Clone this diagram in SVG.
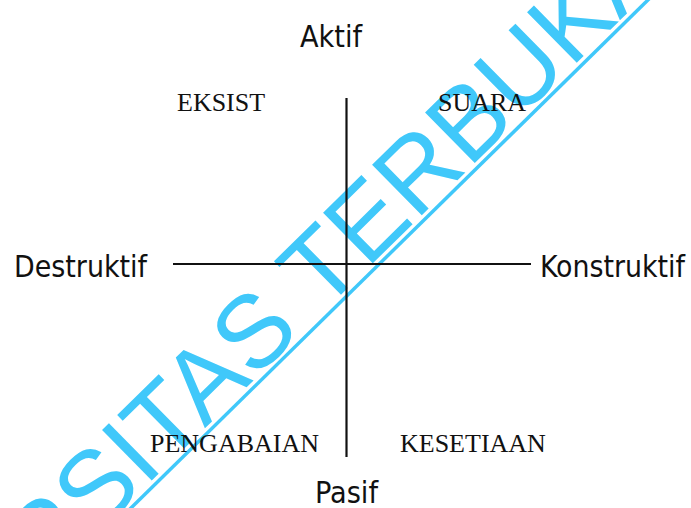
<svg xmlns="http://www.w3.org/2000/svg" width="691" height="508" viewBox="0 0 691 508">
  <style>
    .axis { font-family: "DejaVu Sans Condensed", "DejaVu Sans", sans-serif; font-stretch: condensed; font-size: 30px; fill: #111; }
    .quad { font-family: "Liberation Serif", "Times New Roman", serif; font-size: 26px; fill: #111; }
    .ln { stroke: #111; stroke-width: 2.2; fill: none; }
    .wm { font-family: "Liberation Sans", Arial, sans-serif; font-size: 103px; fill: #40C8FA; }
  </style>
  <rect width="691" height="508" fill="#ffffff"/>
  <g id="watermark" transform="translate(132,507) rotate(-44.5)">
    <text class="wm" x="-120" y="-5">RSITAS TERBUKA</text>
    <line x1="-20" y1="0" x2="760" y2="0" stroke="#40C8FA" stroke-width="3.5"/>
  </g>
  <g id="connectors">
    <line class="ln" x1="346.5" y1="98" x2="346.5" y2="457"/>
    <line class="ln" x1="173" y1="264" x2="531" y2="264"/>
  </g>
  <g id="aktif"><text class="axis" x="300" y="47" textLength="62" lengthAdjust="spacingAndGlyphs">Aktif</text></g>
  <g id="pasif"><text class="axis" x="315" y="503" textLength="63" lengthAdjust="spacingAndGlyphs">Pasif</text></g>
  <g id="destruktif"><text class="axis" x="14" y="277" textLength="133" lengthAdjust="spacingAndGlyphs">Destruktif</text></g>
  <g id="konstruktif"><text class="axis" x="540" y="277" textLength="145" lengthAdjust="spacingAndGlyphs">Konstruktif</text></g>
  <g id="eksist"><text class="quad" x="177" y="111">EKSIST</text></g>
  <g id="suara"><text class="quad" x="438" y="111">SUARA</text></g>
  <g id="pengabaian"><text class="quad" x="150" y="452">PENGABAIAN</text></g>
  <g id="kesetiaan"><text class="quad" x="400" y="452">KESETIAAN</text></g>
</svg>
